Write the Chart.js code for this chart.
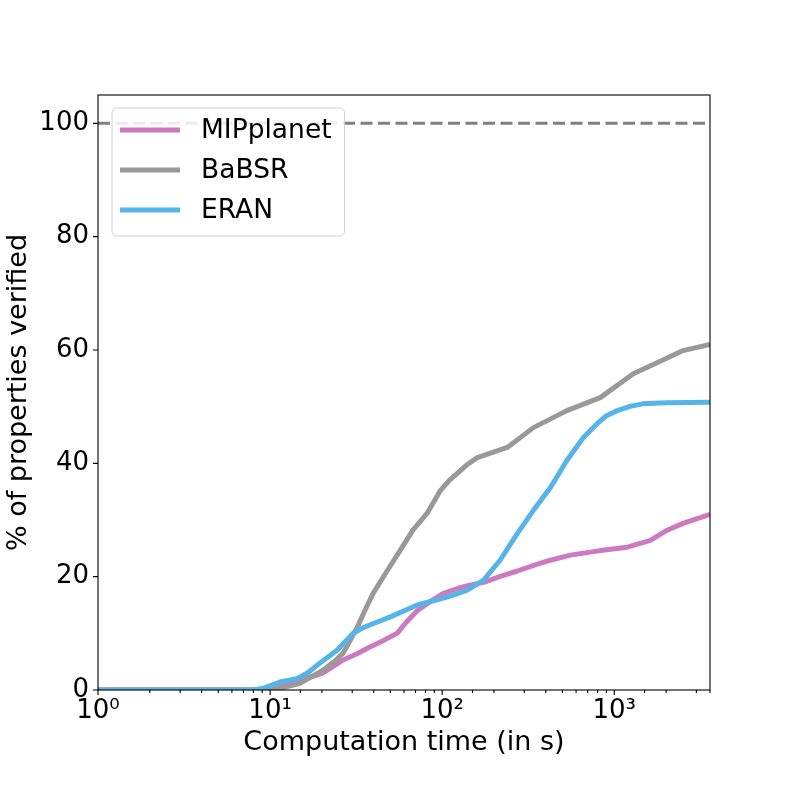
<!DOCTYPE html>
<html>
<head>
<meta charset="utf-8">
<script src="https://cdn.jsdelivr.net/npm/chart.js@4.4.0/dist/chart.umd.min.js"></script>
<style>
  html, body { margin: 0; padding: 0; background: #fff; }
  canvas { display: block; }
</style>
</head>
<body>
<canvas id="chart" width="789" height="789"></canvas>
<script>
// values (time in s, % of properties verified)
const mipTimes = [1, 9, 11, 14.3, 20.3, 26.6, 32, 38, 46, 54.7, 62, 71.6, 85, 101, 125, 145, 174, 220, 273, 340, 425, 555, 829, 1190, 1620, 2030, 2510, 3600];
const mipPct   = [0, 0, 0.5, 1.5, 3, 5.3, 6.4, 7.6, 8.8, 10, 12, 14, 15.6, 17, 18, 18.5, 19, 20.1, 21, 22, 22.9, 23.8, 24.6, 25.2, 26.4, 28.2, 29.4, 31];

const babsrTimes = [1, 10, 11.4, 15, 20.3, 24, 26.6, 29, 32, 35.5, 39.6, 47.8, 56.9, 67.6, 81.8, 97.6, 110, 122, 140, 160, 239, 339, 530, 829, 1290, 2030, 2510, 3600];
const babsrPct   = [0, 0, 0.3, 1.2, 3.5, 5.2, 6.5, 8.6, 11, 14, 17, 21, 24.6, 28.2, 31.2, 35.2, 37, 38.2, 39.8, 41, 42.8, 46.3, 49.3, 51.6, 55.8, 58.6, 59.9, 61];

const eranTimes = [1, 8, 9.1, 11.4, 14.3, 16.5, 18.8, 24.5, 30.4, 34.8, 42, 50, 71.6, 107, 139, 174, 217, 273, 339, 425, 530, 660, 795, 900, 1040, 1250, 1460, 2030, 3600];
const eranPct   = [0, 0, 0.3, 1.4, 2, 3, 4.4, 7, 10, 11, 12, 12.9, 15, 16.4, 17.6, 19.4, 22.9, 27.6, 31.7, 35.7, 40.5, 44.5, 47, 48.4, 49.3, 50.1, 50.5, 50.7, 50.8];

const refTimes = [1, 3600];
const refPct   = [100, 100];

const yTicks = [0, 20, 40, 60, 80, 100];
const sup = ['\u2070', '\u00b9', '\u00b2', '\u00b3'];

Chart.defaults.font.family = '"DejaVu Sans", sans-serif';
Chart.defaults.color = '#000';

function pairs(xs, ys) {
    return xs.map(function (x, i) { return { x: x, y: ys[i] }; });
}
function isPow10(v) {
    const e = Math.log10(v);
    return Math.abs(e - Math.round(e)) < 1e-9;
}

// Frame + outward tick marks
const frame = {
    id: 'frame',
    afterDraw: function (chart) {
        const ctx = chart.ctx, a = chart.chartArea;
        const xs = chart.scales.x, ys = chart.scales.y;
        ctx.save();
        ctx.strokeStyle = '#000';
        ctx.lineWidth = 1.1;
        ctx.strokeRect(a.left, a.top, a.right - a.left, a.bottom - a.top);
        ctx.beginPath();
        xs.ticks.forEach(function (t) {
            const px = xs.getPixelForValue(t.value);
            if (px < a.left - 0.5 || px > a.right + 0.5) return;
            ctx.moveTo(px, a.bottom);
            ctx.lineTo(px, a.bottom + (isPow10(t.value) ? 5 : 3));
        });
        ys.ticks.forEach(function (t) {
            const py = ys.getPixelForValue(t.value);
            ctx.moveTo(a.left, py);
            ctx.lineTo(a.left - 5, py);
        });
        ctx.stroke();
        ctx.restore();
    }
};

// matplotlib style legend box
const boxLegend = {
    id: 'boxLegend',
    afterDraw: function (chart) {
        const ctx = chart.ctx, a = chart.chartArea;
        const items = chart.data.datasets.filter(function (d) { return d.label; });
        const left = a.left + 14, top = a.top + 13;
        ctx.save();
        ctx.font = '26.5px "DejaVu Sans"';
        let maxW = 0;
        items.forEach(function (d) { maxW = Math.max(maxW, ctx.measureText(d.label).width); });
        const w = 89 + maxW + 13, h = 128, r = 5;
        ctx.beginPath();
        ctx.roundRect(left, top, w, h, r);
        ctx.fillStyle = 'rgba(255,255,255,0.85)';
        ctx.fill();
        ctx.strokeStyle = '#d0d0d0';
        ctx.lineWidth = 1;
        ctx.stroke();
        items.forEach(function (d, i) {
            const y = top + 22 + i * 40;
            ctx.strokeStyle = d.borderColor;
            ctx.lineWidth = 5;
            ctx.beginPath();
            ctx.moveTo(left + 8, y);
            ctx.lineTo(left + 68, y);
            ctx.stroke();
            ctx.fillStyle = '#000';
            ctx.textBaseline = 'middle';
            ctx.fillText(d.label, left + 89, y + 1);
        });
        ctx.restore();
    }
};

new Chart(document.getElementById('chart').getContext('2d'), {
    type: 'line',
    data: {
        datasets: [{
            label: 'MIPplanet',
            data: pairs(mipTimes, mipPct),
            borderColor: '#CC79BF',
            borderWidth: 5,
            order: 2
        }, {
            label: 'BaBSR',
            data: pairs(babsrTimes, babsrPct),
            borderColor: '#999999',
            borderWidth: 5,
            order: 1
        }, {
            label: 'ERAN',
            data: pairs(eranTimes, eranPct),
            borderColor: '#56B4E9',
            borderWidth: 5,
            order: 0
        }, {
            label: '',
            data: pairs(refTimes, refPct),
            borderColor: '#808080',
            borderWidth: 3,
            borderDash: [12, 5.5],
            order: 3
        }]
    },
    options: {
        responsive: false,
        animation: false,
        layout: { padding: { top: 95, right: 79, left: 0, bottom: 0 } },
        elements: {
            point: { radius: 0, hoverRadius: 0 },
            line: { tension: 0, fill: false, borderCapStyle: 'butt', borderJoinStyle: 'round' }
        },
        plugins: {
            legend: { display: false },
            tooltip: { enabled: false }
        },
        scales: {
            x: {
                type: 'logarithmic',
                min: 1,
                max: 3600,
                grid: { display: false, drawTicks: false },
                border: { display: false },
                ticks: {
                    autoSkip: false,
                    maxRotation: 0,
                    padding: 6,
                    font: { size: 26 },
                    callback: function (v) {
                        return isPow10(v) ? '10' + sup[Math.round(Math.log10(v))] : '';
                    }
                },
                title: {
                    display: true,
                    text: 'Computation time (in s)',
                    font: { size: 27 },
                    padding: { top: 0, bottom: 30 }
                },
                afterFit: function (s) { s.height = 99; }
            },
            y: {
                min: 0,
                max: 105,
                grid: { display: false, drawTicks: false },
                border: { display: false },
                ticks: {
                    padding: 9,
                    font: { size: 26 }
                },
                afterBuildTicks: function (s) {
                    s.ticks = yTicks.map(function (v) { return { value: v }; });
                },
                title: {
                    display: true,
                    text: '% of properties verified',
                    font: { size: 27 },
                    padding: { top: 3, bottom: 0 }
                },
                afterFit: function (s) { s.width = 98; }
            }
        }
    },
    plugins: [frame, boxLegend]
});
</script>
</body>
</html>
